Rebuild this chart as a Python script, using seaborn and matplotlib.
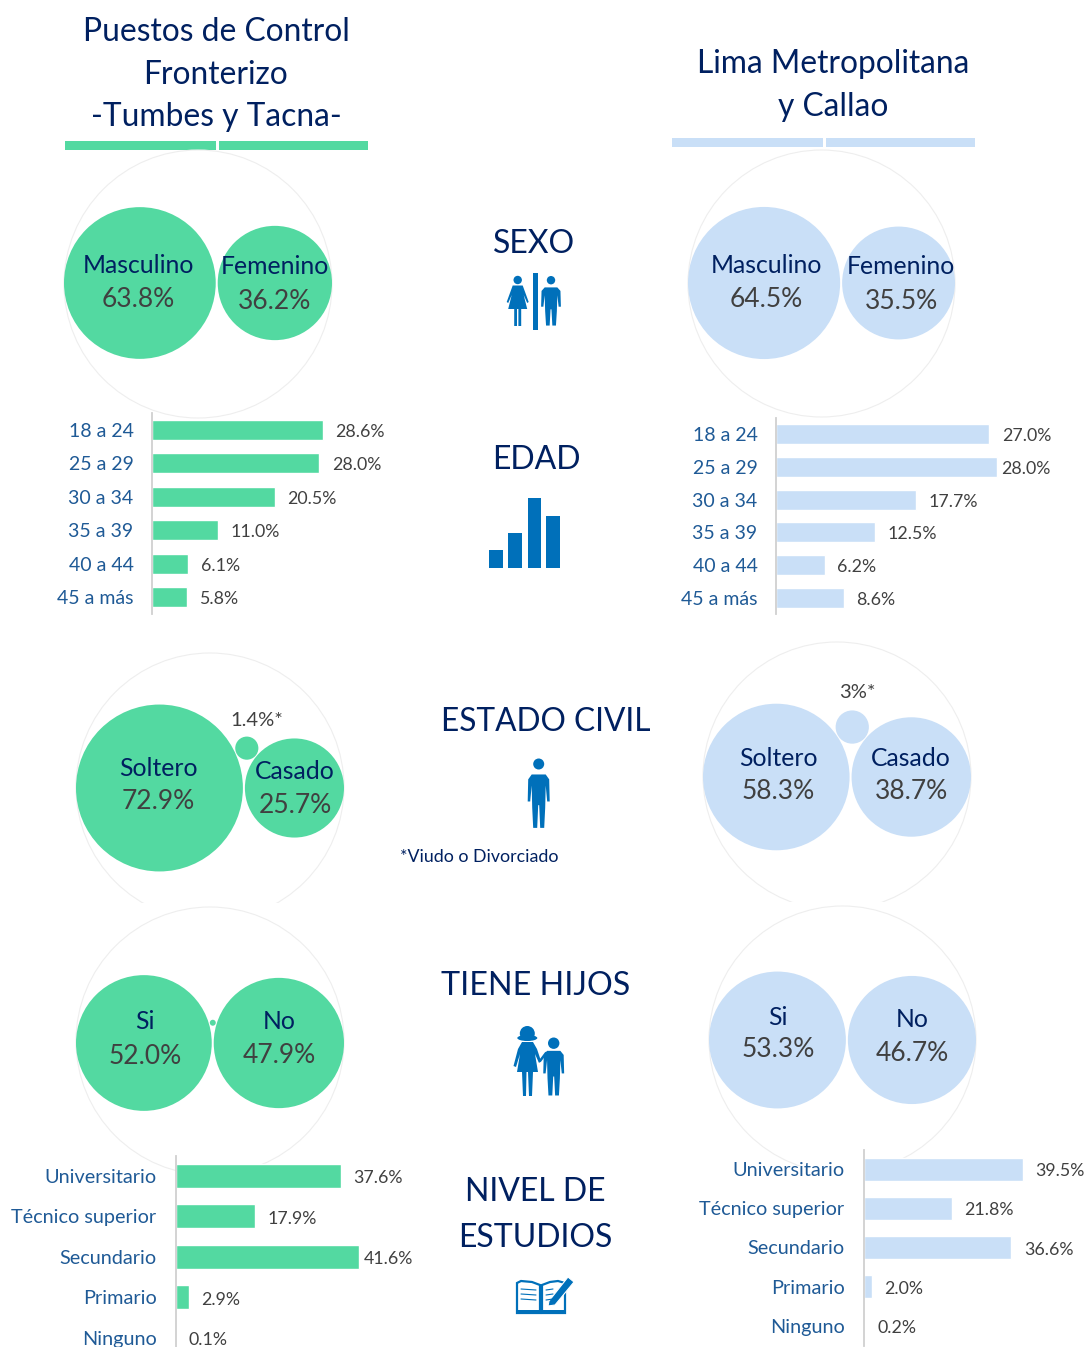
import numpy as np
import matplotlib
matplotlib.use("Agg")
import matplotlib.pyplot as plt
from matplotlib.patches import Circle, Ellipse, Polygon, Rectangle
import pandas as pd
import seaborn as sns

# Colores
VERDE = "#53D9A1"
CELESTE = "#C9DFF7"
NAVY = "#002060"
AZUL_CAT = "#1F5A96"
GRIS = "#404040"
ICONO = "#0070BA"
W, H = 1085, 1347

# Datos
edad_cat = ["18 a 24", "25 a 29", "30 a 34", "35 a 39", "40 a 44", "45 a más"]
edad_front = [28.6, 28.0, 20.5, 11.0, 6.1, 5.8]
edad_lima = [27.0, 28.0, 17.7, 12.5, 6.2, 8.6]
estudios_cat = ["Universitario", "Técnico superior", "Secundario", "Primario", "Ninguno"]
estudios_front = [37.6, 17.9, 41.6, 2.9, 0.1]
estudios_lima = [39.5, 21.8, 36.6, 2.0, 0.2]
sexo_cat = ["Masculino", "Femenino"]
sexo_front = [63.8, 36.2]
sexo_lima = [64.5, 35.5]
civil_cat = ["Soltero", "Casado"]
civil_front = [72.9, 25.7]
civil_otro_front = 1.4
civil_lima = [58.3, 38.7]
civil_otro_lima = 3.0
hijos_cat = ["Si", "No"]
hijos_front = [52.0, 47.9]
hijos_otro_front = 0.1
hijos_lima = [53.3, 46.7]

sns.set_theme(style="white")
plt.rcParams["font.family"] = ["Lato", "DejaVu Sans"]

fig = plt.figure(figsize=(W / 100, H / 100), dpi=100)
canvas = fig.add_axes([0, 0, 1, 1])
canvas.set_xlim(0, W)
canvas.set_ylim(H, 0)
canvas.axis("off")


def put(x, y, s, size, color=NAVY, **kw):
    canvas.text(x, y, s, fontsize=size, color=color, ha=kw.pop("ha", "center"), va="center", **kw)


def burbujas(x0, x1, cy, valores, color, cat, pos_txt, otro=None, top=None, corte=None):
    """Dos circulos tangentes con area proporcional al valor, mas uno chico opcional."""
    gap = 2
    k = (x1 - x0 - gap) / (2 * (np.sqrt(valores[0]) + np.sqrt(valores[1])))
    r1, r2 = k * np.sqrt(valores[0]), k * np.sqrt(valores[1])
    c1 = x0 + r1
    c2 = x1 - r2
    # circulo envolvente gris, recortado abajo como en el original
    R = (x1 - x0) / 2
    borde = Circle(((x0 + x1) / 2, top + R), R, fill=False, ec="#EEEEEE", lw=0.8)
    canvas.add_patch(borde)
    if corte is not None:
        borde.set_clip_path(Rectangle((x0 - 5, top - 5), x1 - x0 + 10, corte - top + 5, transform=canvas.transData))
    canvas.add_patch(Circle((c1, cy), r1, fc=color, ec="none", zorder=2))
    canvas.add_patch(Circle((c2, cy), r2, fc=color, ec="none", zorder=2))
    if otro is not None:
        r3 = k * np.sqrt(otro)
        d = c2 - c1
        d1, d2 = r1 + r3 + 1, r2 + r3 + 1
        a = (d * d + d1 * d1 - d2 * d2) / (2 * d)
        canvas.add_patch(Circle((c1 + a, cy - np.sqrt(d1 * d1 - a * a)), r3, fc=color, ec="none", zorder=2))
    for nom, v, (tx, ly, py) in zip(cat, valores, pos_txt):
        put(tx, ly + 1.5, nom, 17.8, zorder=3)
        put(tx, py + 1.5, f"{v:.1f}%", 19, color=GRIS, zorder=3)


def barras(cat, valores, color, x_eje, y_top, paso, px_por, alto, ancho_px, fs_cat, pad_cat=14, ajuste=None):
    n = len(cat)
    ax = fig.add_axes([x_eje / W, 1 - (y_top + n * paso) / H, ancho_px / W, n * paso / H])
    df = pd.DataFrame({"cat": cat, "v": valores})
    sns.barplot(data=df, y="cat", x="v", color=color, saturation=1, width=alto / paso, ax=ax)
    ax.set_xlim(0, ancho_px / px_por)
    ax.set_ylim(n - 0.5, -0.5)
    ax.set_xlabel("")
    ax.set_ylabel("")
    ax.set_xticks([])
    ax.patch.set_alpha(0)
    for lado in ["top", "right", "bottom"]:
        ax.spines[lado].set_visible(False)
    ax.spines["left"].set_color("#D0D0D0")
    ax.spines["left"].set_linewidth(1.3)
    ax.tick_params(axis="y", length=0, pad=pad_cat)
    for t in ax.get_yticklabels():
        t.set_fontsize(fs_cat)
        t.set_color(AZUL_CAT)
    etiquetas = ax.bar_label(ax.containers[0], labels=[f"{v:.1f}%" for v in valores], padding=9,
                             fontsize=12.8, color=GRIS)
    for i, e in enumerate(etiquetas):
        extra = ajuste.get(i, 0) if ajuste else 0
        e.xyann = (e.xyann[0] + extra, -1.5)


def persona(cx, top, alto, sx=1.0, r=5.0):
    """Figura de pie, usada en ESTADO CIVIL y en los iconos de SEXO y TIENE HIJOS."""
    sy = alto / 57.0
    canvas.add_patch(Circle((cx, top + r), r, fc=ICONO, ec="none"))
    pts = [(-7, 13), (7, 13), (10.5, 17), (11, 35), (8.5, 35), (7, 22), (6.5, 40), (5.5, 56.5), (1.5, 56.5), (0.5, 38),
           (-0.5, 38), (-1.5, 56.5), (-5.5, 56.5), (-6.5, 40), (-7, 22), (-8.5, 35), (-11, 35), (-10.5, 17)]
    canvas.add_patch(Polygon([(cx + a * sx, top + b * sy) for a, b in pts], fc=ICONO, ec="none"))


def mujer(cx, top, alto):
    s = alto / 50.0
    canvas.add_patch(Circle((cx, top + 4 * s), 4.2 * s, fc=ICONO, ec="none"))
    pts = [(-5, 9.5), (5, 9.5), (11, 26), (9.5, 27), (6, 19), (9.5, 33), (3.5, 33), (3.5, 50), (0.7, 50), (0.7, 33),
           (-0.7, 33), (-0.7, 50), (-3.5, 50), (-3.5, 33), (-9.5, 33), (-6, 19), (-9.5, 27), (-11, 26)]
    canvas.add_patch(Polygon([(cx + a * s, top + b * s) for a, b in pts], fc=ICONO, ec="none"))


# Titulos de columna
for i, s in enumerate(["Puestos de Control", "Fronterizo", "-Tumbes y Tacna-"]):
    put(216, 32 + i * 42.5, s, 22.9)
for i, s in enumerate(["Lima Metropolitana", "y Callao"]):
    put(833, 64 + i * 42.5, s, 22.9)
canvas.add_patch(Rectangle((65, 141), 151, 9, fc=VERDE, ec="none"))
canvas.add_patch(Rectangle((219, 141), 149, 9, fc=VERDE, ec="none"))
canvas.add_patch(Rectangle((672, 138), 151, 9, fc=CELESTE, ec="none"))
canvas.add_patch(Rectangle((826, 138), 149, 9, fc=CELESTE, ec="none"))

# Titulos centrales
put(534, 244, "SEXO", 23)
put(536, 460, "EDAD", 23)
put(546, 722, "ESTADO CIVIL", 22.8)
put(536, 986, "TIENE HIJOS", 23.2)
put(535, 1192, "NIVEL DE", 23)
put(535, 1238, "ESTUDIOS", 23)
put(400, 857, "*Viudo o Divorciado", 12.8, ha="left")

# Burbujas
burbujas(64, 332, 283, sexo_front, VERDE, sexo_cat, [(138, 264, 298), (275, 265, 300)], top=150)
burbujas(688, 955, 283, sexo_lima, CELESTE, sexo_cat, [(766, 264, 298), (901, 265, 300)], top=150)
burbujas(76, 344, 788, civil_front, VERDE, civil_cat, [(158, 767, 800), (295, 770, 804)],
         otro=civil_otro_front, top=653, corte=903)
burbujas(703, 971, 777, civil_lima, CELESTE, civil_cat, [(778, 757, 790), (911, 757, 790)],
         otro=civil_otro_lima, top=642, corte=902)
burbujas(76, 344, 1043, hijos_front, VERDE, hijos_cat, [(145, 1020, 1055), (279, 1020, 1054)],
         otro=hijos_otro_front, top=907)
burbujas(709, 976, 1040, hijos_lima, CELESTE, hijos_cat, [(778, 1016, 1048), (912, 1018, 1052)], top=906, corte=1166)
put(257, 721, "1.4%*", 14.5, color=GRIS)
put(857, 693, "3%*", 14.5, color=GRIS)

# Barras
barras(edad_cat, edad_front, VERDE, 152, 413.3, 33.4, 5.98, 20, 260, 14, pad_cat=13.3)
barras(edad_cat, edad_lima, CELESTE, 776, 417.6, 32.8, 7.9, 20, 300, 14, pad_cat=13.3, ajuste={1: -6.5})
barras(estudios_cat, estudios_front, VERDE, 176, 1155.7, 40.5, 4.39, 24, 260, 14.3, ajuste={2: -5})
barras(estudios_cat, estudios_lima, CELESTE, 864, 1149.5, 39.2, 4.03, 23, 221, 14.3)

# Iconos
mujer(517.7, 276, 50)
canvas.add_patch(Rectangle((533.3, 272.7), 4.2, 57.5, fc=ICONO, ec="none"))
persona(551, 276, 50, sx=0.9, r=4.2)
for x0, x1, yt in [(489.3, 502.7, 550), (508.3, 522, 533), (528, 541, 498.3), (546.3, 560.3, 515.7)]:
    canvas.add_patch(Rectangle((x0, yt), x1 - x0, 567.7 - yt, fc=ICONO, ec="none"))
persona(538.7, 758.5, 70, sx=1.0, r=5.5)
# madre e hijo
canvas.add_patch(Circle((527.3, 1033.5), 7.5, fc=ICONO, ec="none"))
canvas.add_patch(Ellipse((527.3, 1038), 20, 6, fc=ICONO, ec="none"))
mad = [(522, 1042), (533, 1042), (537, 1049), (541, 1061), (539, 1063), (535, 1054), (538, 1072), (533, 1072),
       (532, 1096), (529, 1096), (528, 1072), (526.5, 1072), (526, 1096), (523, 1096), (522, 1072), (517, 1072),
       (520, 1054), (516, 1067), (513.5, 1066), (518, 1049)]
canvas.add_patch(Polygon(mad, fc=ICONO, ec="none"))
persona(553.7, 1037.5, 58.5, sx=0.95, r=5.7)
canvas.plot([540, 546], [1061, 1053], color=ICONO, lw=1.8)
# libro y lapiz
for pts in [[(517, 1283), (521, 1281), (532, 1282), (540, 1285), (540, 1313), (517, 1313)],
            [(542, 1285), (550, 1282), (558, 1281), (565, 1283), (565, 1313), (542, 1313)]]:
    canvas.add_patch(Polygon(pts, fc="white", ec=ICONO, lw=1.6))
canvas.add_patch(Rectangle((516.5, 1310), 48.5, 3, fc=ICONO, ec="none"))
for yy in [1289, 1294, 1299]:
    canvas.plot([521, 536], [yy, yy + 1], color=ICONO, lw=0.8)
    canvas.plot([546, 553], [yy + 1, yy], color=ICONO, lw=0.8)
canvas.add_patch(Polygon([(549, 1301), (568, 1277), (574, 1282), (555, 1305), (548, 1306)], fc=ICONO, ec="white", lw=0.8))

fig.savefig("out.png", dpi=100)
